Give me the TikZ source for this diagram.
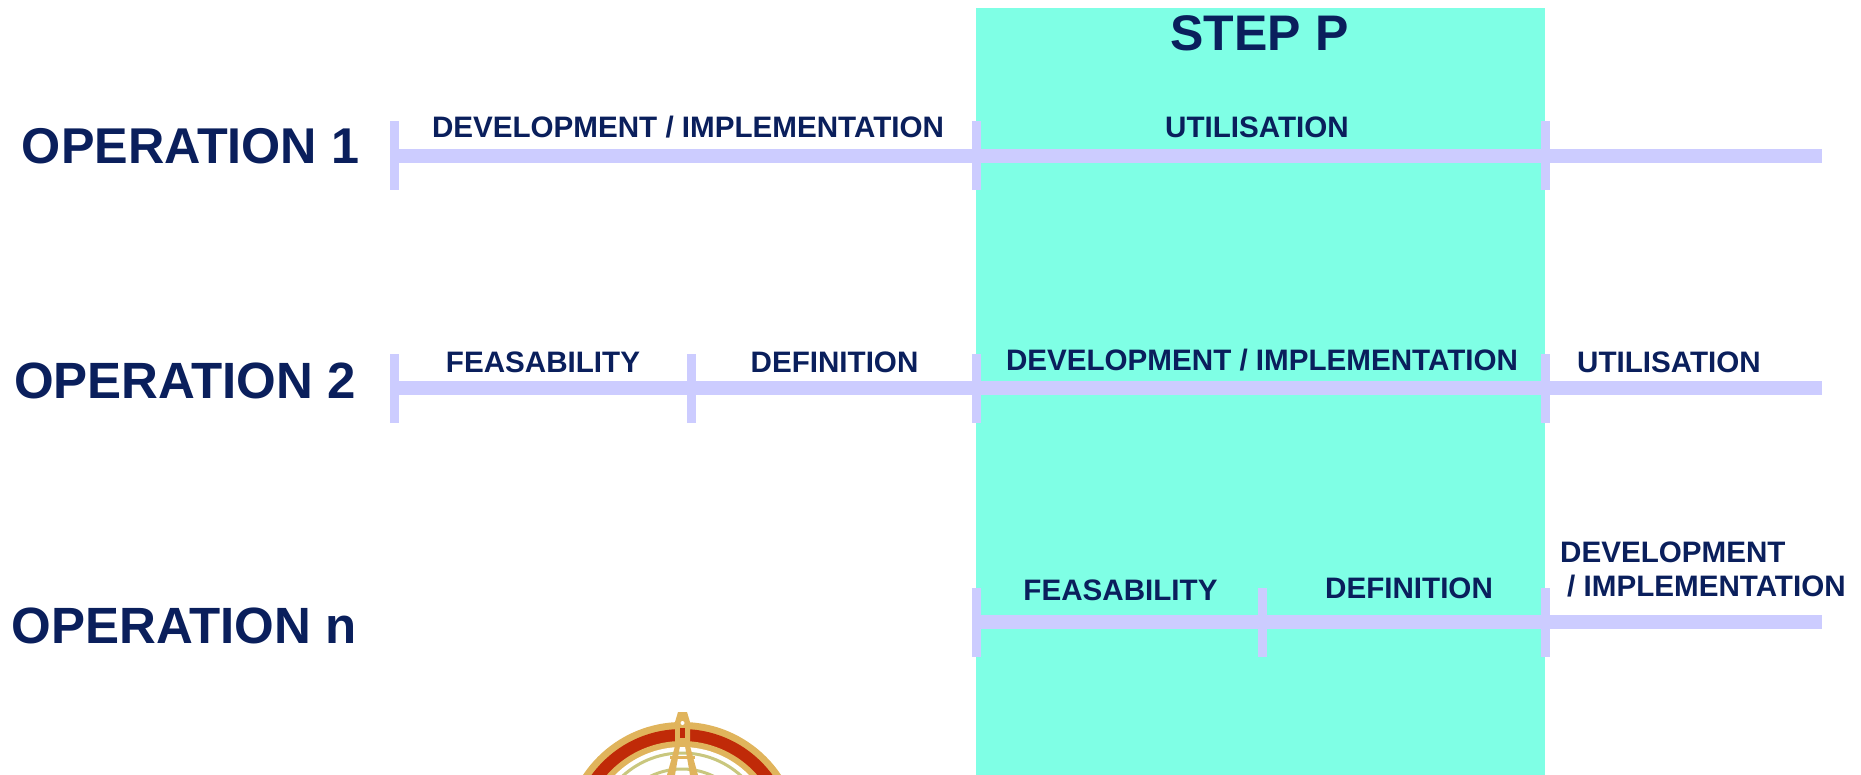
\documentclass[tikz,border=0pt]{standalone}
\usepackage{fontspec}
\setmainfont{Liberation Sans}
\usepackage{xcolor}
\definecolor{opblue}{HTML}{0A1F5C}
\definecolor{barblue}{HTML}{CCCCFF}
\definecolor{stepgreen}{HTML}{7FFFE5}
\definecolor{crestgold}{HTML}{E0B45C}
\definecolor{crestred}{HTML}{C02A08}
\definecolor{crestgreen}{HTML}{C9C77E}
\begin{document}
\begin{tikzpicture}[x=1pt,y=-1pt,
					title/.style={inner sep=0pt, text=opblue, text height=36pt, text depth=0pt, font=\fontsize{51}{51}\selectfont\bfseries},
					phase/.style={inner sep=0pt, text=opblue, text height=21pt, text depth=0pt, font=\fontsize{29.6}{34}\selectfont\bfseries},
					tick/.style={fill=barblue, inner sep=0pt, minimum width=9pt, minimum height=69pt},
					bar/.style={barblue, line width=14pt}]
    \useasboundingbox (0,0) rectangle (1861,775);
    \fill[stepgreen] (976,8) rectangle (1545,775);
    % Place nodes
    \node [title, font=\fontsize{50}{50}\selectfont\bfseries] (S) at (1259.5,33){STEP P};
    \node [title, font=\fontsize{50.3}{50}\selectfont\bfseries] (O1) at (190.5,146){OPERATION 1};
    \node [title] (O2) at (185,381){OPERATION 2};
    \node [title] (On) at (184,625.5){OPERATION n};

    \node [tick] (A0) at (394,156){};
    \node [tick] (A1) at (976,156){};
    \node [tick] (A2) at (1545.5,156){};
    \coordinate (A3) at (1822,156);
    \node [tick] (B0) at (394,388.5){};
    \node [tick] (B1) at (691,388.5){};
    \node [tick] (B2) at (976,388.5){};
    \node [tick] (B3) at (1545.5,388.5){};
    \coordinate (B4) at (1822,388.5);
    \node [tick] (C0) at (976,622){};
    \node [tick] (C1) at (1262,622){};
    \node [tick] (C2) at (1545.5,622){};
    \coordinate (C3) at (1822,622);

    \node [phase] (a) at (688,127){DEVELOPMENT / IMPLEMENTATION};
    \node [phase] (b) at (1257,127){UTILISATION};
    \node [phase] (c) at (543,362){FEASABILITY};
    \node [phase] (d) at (834.5,362){DEFINITION};
    \node [phase] (e) at (1262,360){DEVELOPMENT / IMPLEMENTATION};
    \node [phase] (f) at (1669,362){UTILISATION};
    \node [phase] (g) at (1120.5,590){FEASABILITY};
    \node [phase] (h) at (1409,588){DEFINITION};
    \node [phase, anchor=west] (i) at (1560,552){DEVELOPMENT};
    \node [phase, anchor=west] (j) at (1567,586){/ IMPLEMENTATION};

    % Draw edges
    \draw[bar] (A0.center) -- (A1.center) -- (A2.center) -- (A3);
    \draw[bar] (B0.center) -- (B1.center) -- (B2.center) -- (B3.center) -- (B4);
    \draw[bar] (C0.center) -- (C1.center) -- (C2.center) -- (C3);

    % Crest, cut by the page
    \begin{scope}
        \clip (0,0) rectangle (1861,775);
        \fill[crestgold] (682,841) circle (119);
        \fill[crestred] (682,841) circle (112);
        \fill[crestgold] (682,841) circle (100);
        \fill[white] (682,841) circle (94);
        \draw[crestgreen, line width=3pt] (682,841) circle (72);
        \draw[crestgreen, line width=3pt] (682,841) circle (88);
        \fill[crestgold] (678,712) -- (687,712) -- (690,722) -- (690,746) -- (698,775) -- (690,775) -- (685,746) -- (680,746) -- (675,775) -- (667,775) -- (675,746) -- (675,722) -- cycle;
        \fill[crestred] (680,728) rectangle (685,738);
        \fill[white] (682.5,723) circle (2);
        \fill[crestgold] (670,756) rectangle (695,759);
    \end{scope}
\end{tikzpicture}
\end{document}
